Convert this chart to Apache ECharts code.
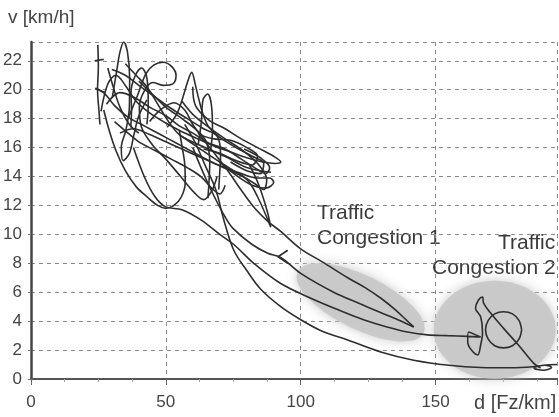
<!DOCTYPE html>
<html><head><meta charset="utf-8">
<script src="https://cdn.jsdelivr.net/npm/echarts@6/dist/echarts.min.js"></script>
<style>html,body{margin:0;padding:0;background:#fff}#c{width:559px;height:417px}</style>
</head><body><div id="c"></div>
<script>
// ---- data (density d [Fz/km], speed v [km/h]) ----
const zone1Centre = [[122.2, 5.3]];
const zone2Centre = [[171.9, 3.4]];

const trackVertical = [[24.8,23.1],[25.0,21.6],[24.7,20.0],[25.2,18.6],[25.6,17.6]];
const trackTick22 = [[23.6,22.0],[27.0,22.1]];
const trackTick20 = [[23.8,20.1],[27.6,19.8]];
const trackC1 = [[26.0,18.5],[28.5,20.4],[31.5,21.0],[35.0,20.3],[39.0,19.2],[44.0,18.4],[50.0,17.7],[56.0,17.1],[62.0,16.6],[68.0,16.1],[74.0,15.7],[80.0,15.3],[86.0,15.0],[90.5,14.9],[92.6,15.0],[90.0,15.4],[84.0,16.0],[78.0,16.6],[72.0,17.3],[66.0,17.9],[61.0,18.9],[60.0,20.2]];
const trackC2 = [[24.0,20.1],[27.5,19.7],[31.0,18.9],[36.0,18.1],[42.0,17.5],[48.0,16.9],[54.0,16.3],[60.0,15.7],[66.0,15.1],[72.0,14.6],[78.0,14.2],[84.0,13.9],[88.5,13.9],[90.0,13.6],[87.0,13.2],[82.0,13.4],[76.0,14.1],[70.0,15.0]];
const trackC3 = [[36.0,18.0],[39.5,19.6],[42.6,21.1],[45.5,21.7],[49.0,21.9],[52.2,21.6],[53.8,21.0],[52.6,20.4],[49.0,20.3],[45.2,20.5],[42.0,19.9],[40.2,18.8],[41.0,17.4],[45.0,16.2],[50.0,15.2],[55.5,14.0],[60.5,12.9],[64.0,12.4],[67.0,13.0],[69.0,14.0]];
const trackC4 = [[50.5,17.4],[54.0,18.3],[56.2,19.4],[58.0,20.5],[59.6,21.2],[61.0,20.3],[62.3,19.3],[63.8,18.3],[66.0,17.4],[70.0,16.7],[76.0,16.0],[82.0,15.4],[86.3,14.9],[85.0,14.2],[80.0,14.4],[74.0,15.0]];
const trackC5 = [[30.2,19.5],[31.8,21.3],[33.0,22.6],[34.4,23.3],[35.8,22.6],[36.6,20.8],[36.5,18.8],[35.2,17.2],[33.5,16.0],[34.2,15.1],[36.5,15.6],[38.2,16.9],[40.0,18.2],[43.0,19.3]];
const trackC6 = [[27.0,18.6],[29.0,17.2],[31.5,15.8],[35.0,14.4],[39.0,13.3],[43.0,12.6],[47.0,12.0],[50.0,11.8],[53.0,12.0],[55.8,12.6],[57.2,13.6],[57.0,14.9],[56.0,16.1],[55.0,17.2]];
const trackC7 = [[40.0,20.6],[45.0,19.7],[50.0,18.8],[56.0,18.0],[61.5,17.2],[65.0,16.4],[66.3,15.0],[66.0,13.6],[65.6,12.5]];
const trackC8 = [[30.0,21.4],[35.0,21.0],[40.0,20.3],[46.0,19.5],[52.0,18.7],[58.0,18.0],[64.0,17.3],[69.0,16.8],[70.3,15.5],[70.0,14.3],[69.6,13.1]];
const trackC9 = [[55.0,16.9],[62.0,16.0],[70.0,15.0],[77.0,14.2],[83.0,13.5],[86.3,13.1],[87.4,13.8],[84.5,14.8],[78.5,15.8],[72.0,16.6],[66.0,17.4],[60.0,18.3],[56.0,19.2]];
const trackC10 = [[33.0,17.0],[38.0,17.3],[44.0,16.9],[50.0,16.4],[56.0,15.9],[62.0,15.4],[68.0,14.9],[74.0,14.4],[80.0,13.8],[84.0,12.6],[88.9,10.5],[87.6,11.6],[84.5,13.4],[81.0,14.8]];
const trackC11 = [[37.0,17.4],[37.3,18.6],[37.1,19.8],[38.5,20.9],[41.0,21.5],[43.0,20.8],[43.5,19.0],[43.0,17.6]];
const trackC12 = [[28.0,19.0],[33.0,19.8],[38.0,19.5],[44.0,18.8],[50.0,18.2],[55.0,17.5],[60.0,17.0],[66.0,16.3],[72.0,15.9],[78.0,15.2],[83.0,14.6],[87.0,14.2],[88.5,14.6],[85.0,15.3],[79.0,15.9]];
const trackC13 = [[35.0,21.8],[39.0,21.0],[43.0,20.2],[47.0,19.0],[51.0,17.8],[55.0,16.9],[61.0,16.3],[67.0,15.8],[73.0,15.3],[79.0,14.7],[85.0,14.4],[89.0,14.3]];
const trackC14 = [[44.0,17.8],[48.0,18.6],[53.0,19.1],[57.0,18.6],[60.0,17.6],[63.0,16.9],[68.0,16.6],[74.0,16.5],[80.0,16.0],[84.0,15.4],[82.0,14.8],[76.0,15.1],[70.0,15.6],[64.0,15.9]];
const trackC15 = [[62.0,16.2],[63.2,17.8],[63.8,19.3],[65.5,19.7],[67.0,18.8],[67.3,17.2],[66.6,15.8]];
const trackC16 = [[31.0,17.8],[36.0,17.0],[40.0,16.4],[46.0,15.8],[52.0,15.2],[58.0,14.6],[63.0,14.0],[67.0,13.2],[70.0,12.8],[72.0,13.4]];
const trackC17 = [[28.5,21.5],[30.5,20.2],[33.0,18.8],[36.5,17.6],[40.0,17.0]];
const trackLow = [[57.0,17.6],[61.0,16.3],[64.5,14.8],[68.5,13.1],[71.5,11.0],[75.2,8.9],[80.0,7.5],[85.2,6.2],[92.6,5.0],[100.0,4.1],[108.0,3.3],[117.4,2.7],[130.0,1.85],[141.9,1.3],[155.0,0.95],[166.7,0.8],[178.0,0.78],[186.0,0.85],[190.5,0.95],[193.0,0.8],[190.0,0.6],[186.5,0.75],[190.0,0.95],[195.0,1.0]];
const trackToJam1Upper = [[62.0,17.0],[68.0,15.6],[73.0,14.4],[77.8,13.1],[83.0,11.8],[87.8,10.9],[92.6,10.2],[100.0,9.0],[108.0,8.1],[117.4,7.0],[124.0,6.3],[129.6,5.6],[135.0,4.8],[139.0,4.1],[141.9,3.6]];
const trackToJam1Middle = [[60.0,16.0],[64.0,14.2],[68.0,12.6],[72.0,11.2],[75.0,10.4],[82.0,9.3],[87.8,8.7],[92.6,8.4],[100.0,7.3],[112.2,6.0],[122.0,5.2],[129.6,4.6],[136.0,4.1],[141.9,3.6]];
const arrowMark = [[95.2,8.9],[91.6,8.45],[95.2,8.0]];
const trackToJam2 = [[38.0,16.0],[42.0,14.0],[46.0,12.6],[50.0,11.9],[56.0,11.7],[63.0,11.0],[70.0,10.0],[75.2,9.3],[82.6,8.0],[92.6,6.6],[104.8,5.5],[115.0,4.7],[123.3,4.1],[132.0,3.6],[139.6,3.25],[147.0,3.05],[154.4,3.0],[162.0,2.95],[166.7,2.9],[162.2,3.25],[161.9,2.56],[165.6,1.66],[166.7,2.35],[167.4,3.2],[166.7,4.3],[164.8,4.9],[165.9,5.46],[167.4,5.67],[167.8,5.25],[170.4,4.56],[175.2,3.5],[180.7,2.35],[186.3,1.1],[188.9,0.76]];
const jam2Loop = [[181.9,3.4],[180.9,4.05],[178.5,4.5],[175.2,4.65],[171.9,4.5],[169.5,4.05],[168.5,3.4],[169.5,2.75],[171.9,2.3],[175.2,2.15],[178.5,2.3],[180.9,2.75],[181.9,3.4]];

const allTracks = [trackVertical, trackTick22, trackTick20, trackC1, trackC2, trackC3, trackC4, trackC5,
  trackC6, trackC7, trackC8, trackC9, trackC10, trackC11, trackC12, trackC13, trackC14, trackC15, trackC16,
  trackC17, trackLow, trackToJam1Upper, trackToJam1Middle, arrowMark, trackToJam2, jam2Loop];

const ellipsePath = 'path://M0,50A50,50,0,1,1,100,50A50,50,0,1,1,0,50Z';
const zoneStyle = {color: '#c8c8c8', opacity: 0.95, shadowBlur: 12, shadowColor: '#c8c8c8'};

const series = [
  {type: 'scatter', data: zone1Centre, symbol: ellipsePath, symbolSize: [140, 54], symbolRotate: -26,
   itemStyle: zoneStyle, silent: true, z: 1},
  {type: 'scatter', data: zone2Centre, symbol: ellipsePath, symbolSize: [122, 98],
   itemStyle: zoneStyle, silent: true, z: 1}
];
allTracks.forEach(function (t) {
  series.push({type: 'line', data: t, showSymbol: false, smooth: (t.length > 3 ? 0.35 : 0),
    lineStyle: {color: '#2e2e2e', width: 1.6}, silent: true, z: 3});
});

const labelFont = {fontFamily: 'Liberation Sans, Arial, sans-serif', color: '#444', fontSize: 17};

const chart = echarts.init(document.getElementById('c'), null, {renderer: 'canvas'});
chart.setOption({
  animation: false,
  backgroundColor: '#fff',
  grid: {left: 30, right: 2, top: 42, bottom: 38, containLabel: false},
  xAxis: [{
    type: 'value', min: 0, max: 195, interval: 50,
    axisLine: {show: true, onZero: false, lineStyle: {color: '#555', width: 1.5, type: [9, 3]}},
    axisTick: {show: true, length: 6, lineStyle: {color: '#666'}},
    minorTick: {show: true, splitNumber: 4, length: 3, lineStyle: {color: '#aaa'}},
    axisLabel: Object.assign({margin: 15, showMaxLabel: false}, labelFont),
    splitLine: {show: true, lineStyle: {color: '#8a8a8a', type: [4, 4], width: 1}}
  }, {
    type: 'value', position: 'top', min: 0, max: 195,
    axisLine: {show: true, lineStyle: {color: '#555', width: 2}},
    axisTick: {show: false}, axisLabel: {show: false}, splitLine: {show: false}
  }],
  yAxis: {
    type: 'value', min: 0, max: 23.3, interval: 2,
    axisLine: {show: true, lineStyle: {color: '#444', width: 2.5}},
    axisTick: {show: true, length: 3, lineStyle: {color: '#777'}},
    axisLabel: Object.assign({margin: 9, showMaxLabel: false}, labelFont),
    splitLine: {show: true, lineStyle: {color: '#8a8a8a', type: [4, 4], width: 1}}
  },
  graphic: [
    {type: 'text', left: 8, top: 8, style: {text: 'v [km/h]', font: '19px "Liberation Sans", Arial, sans-serif', fill: '#444'}},
    {type: 'text', left: 474, top: 393, style: {text: 'd [Fz/km]', font: '20px "Liberation Sans", Arial, sans-serif', fill: '#444'}},
    {type: 'text', left: 317, top: 203, style: {text: 'Traffic', font: '21px "Liberation Sans", Arial, sans-serif', fill: '#3a3a3a'}},
    {type: 'text', left: 317, top: 228, style: {text: 'Congestion 1', font: '21px "Liberation Sans", Arial, sans-serif', fill: '#3a3a3a'}},
    {type: 'text', left: 498, top: 233, style: {text: 'Traffic', font: '21px "Liberation Sans", Arial, sans-serif', fill: '#3a3a3a'}},
    {type: 'text', left: 432, top: 258, style: {text: 'Congestion 2', font: '21px "Liberation Sans", Arial, sans-serif', fill: '#3a3a3a'}}
  ],
  series: series
});
</script>
</body></html>
